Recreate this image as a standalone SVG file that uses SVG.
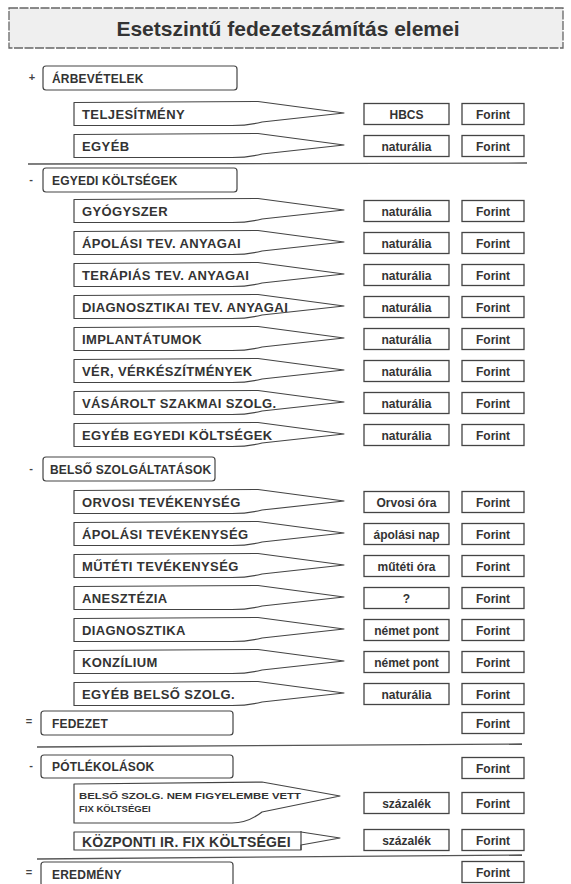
<svg xmlns="http://www.w3.org/2000/svg" xmlns:xlink="http://www.w3.org/1999/xlink" width="571" height="884" viewBox="0 0 571 884">
<style>
.bg{fill:#fff}
.title-box{fill:#efefef;stroke:#666;stroke-width:1.3;stroke-dasharray:9 1.5}
.title{font-family:"Liberation Sans",Arial,sans-serif;font-weight:bold;font-size:21px;fill:#333;text-anchor:middle}
.hdr{fill:#fff;stroke:#444;stroke-width:1.2}
.box{fill:#fff;stroke:#444;stroke-width:1.3}
.co{fill:#fff;stroke:#444;stroke-width:1.2;stroke-linejoin:round}
.h{font-family:"Liberation Sans",Arial,sans-serif;font-weight:bold;font-size:12px;letter-spacing:0.2px;fill:#333}
.lbl{font-family:"Liberation Sans",Arial,sans-serif;font-weight:bold;font-size:13px;letter-spacing:0.4px;fill:#333}
.sm{font-family:"Liberation Sans",Arial,sans-serif;font-weight:bold;font-size:9.5px;fill:#333}
.val{font-family:"Liberation Sans",Arial,sans-serif;font-weight:bold;font-size:12px;fill:#333;text-anchor:middle}
.op{font-family:"Liberation Sans",Arial,sans-serif;font-weight:bold;font-size:11px;fill:#444;text-anchor:middle}
.sep{stroke:#555;stroke-width:1.3;fill:none}
</style>
<defs>
<path id="callout" d="M74,-11.5 L258,-12.5 L344,-1 L262,8 Q248,11.5 232,11.5 L74,11.5 Z"/>
<rect id="vbox" x="364" y="-10.5" width="85" height="21"/>
<rect id="fbox" x="462" y="-10.5" width="62" height="21"/>
</defs>
<rect class="bg" x="0" y="0" width="571" height="884"/>

<g id="title">
<rect class="title-box" x="9" y="8" width="554" height="40"/>
<text class="title" x="288" y="36">Esetszintű fedezetszámítás elemei</text>
</g>

<g id="connectors">
<path class="sep" d="M28,164 L527,163"/>
<path class="sep" d="M37,747 L522,744"/>
<path class="sep" d="M37,859 L522,855"/>
</g>

<g id="arbevetelek">
<text class="op" x="32" y="81">+</text>
<rect class="hdr" x="43" y="66" width="194" height="24" rx="3"/>
<text class="h" x="52" y="83">ÁRBEVÉTELEK</text>
</g>
<g id="teljesitmeny" transform="translate(0,114)">
<use xlink:href="#callout" class="co"/>
<text class="lbl" x="82" y="4.5">TELJESÍTMÉNY</text>
<use xlink:href="#vbox" class="box"/><text class="val" x="406.5" y="4.5">HBCS</text>
<use xlink:href="#fbox" class="box"/><text class="val" x="493" y="4.5">Forint</text>
</g>
<g id="egyeb" transform="translate(0,146)">
<use xlink:href="#callout" class="co"/>
<text class="lbl" x="82" y="4.5">EGYÉB</text>
<use xlink:href="#vbox" class="box"/><text class="val" x="406.5" y="4.5">naturália</text>
<use xlink:href="#fbox" class="box"/><text class="val" x="493" y="4.5">Forint</text>
</g>

<g id="egyedi-koltsegek">
<text class="op" x="31" y="183">-</text>
<rect class="hdr" x="43" y="168" width="194" height="24" rx="3"/>
<text class="h" x="52" y="185">EGYEDI KÖLTSÉGEK</text>
</g>
<g id="gyogyszer" transform="translate(0,211)">
<use xlink:href="#callout" class="co"/>
<text class="lbl" x="82" y="4.5">GYÓGYSZER</text>
<use xlink:href="#vbox" class="box"/><text class="val" x="406.5" y="4.5">naturália</text>
<use xlink:href="#fbox" class="box"/><text class="val" x="493" y="4.5">Forint</text>
</g>
<g id="apolasi-anyagai" transform="translate(0,243)">
<use xlink:href="#callout" class="co"/>
<text class="lbl" x="82" y="4.5">ÁPOLÁSI TEV. ANYAGAI</text>
<use xlink:href="#vbox" class="box"/><text class="val" x="406.5" y="4.5">naturália</text>
<use xlink:href="#fbox" class="box"/><text class="val" x="493" y="4.5">Forint</text>
</g>
<g id="terapias-anyagai" transform="translate(0,275)">
<use xlink:href="#callout" class="co"/>
<text class="lbl" x="82" y="4.5">TERÁPIÁS TEV. ANYAGAI</text>
<use xlink:href="#vbox" class="box"/><text class="val" x="406.5" y="4.5">naturália</text>
<use xlink:href="#fbox" class="box"/><text class="val" x="493" y="4.5">Forint</text>
</g>
<g id="diagnosztikai-anyagai" transform="translate(0,307)">
<use xlink:href="#callout" class="co"/>
<text class="lbl" x="82" y="4.5">DIAGNOSZTIKAI TEV. ANYAGAI</text>
<use xlink:href="#vbox" class="box"/><text class="val" x="406.5" y="4.5">naturália</text>
<use xlink:href="#fbox" class="box"/><text class="val" x="493" y="4.5">Forint</text>
</g>
<g id="implantatumok" transform="translate(0,339)">
<use xlink:href="#callout" class="co"/>
<text class="lbl" x="82" y="4.5">IMPLANTÁTUMOK</text>
<use xlink:href="#vbox" class="box"/><text class="val" x="406.5" y="4.5">naturália</text>
<use xlink:href="#fbox" class="box"/><text class="val" x="493" y="4.5">Forint</text>
</g>
<g id="ver" transform="translate(0,371)">
<use xlink:href="#callout" class="co"/>
<text class="lbl" x="82" y="4.5">VÉR, VÉRKÉSZÍTMÉNYEK</text>
<use xlink:href="#vbox" class="box"/><text class="val" x="406.5" y="4.5">naturália</text>
<use xlink:href="#fbox" class="box"/><text class="val" x="493" y="4.5">Forint</text>
</g>
<g id="vasarolt" transform="translate(0,403)">
<use xlink:href="#callout" class="co"/>
<text class="lbl" x="82" y="4.5">VÁSÁROLT SZAKMAI SZOLG.</text>
<use xlink:href="#vbox" class="box"/><text class="val" x="406.5" y="4.5">naturália</text>
<use xlink:href="#fbox" class="box"/><text class="val" x="493" y="4.5">Forint</text>
</g>
<g id="egyeb-egyedi" transform="translate(0,435)">
<use xlink:href="#callout" class="co"/>
<text class="lbl" x="82" y="4.5">EGYÉB EGYEDI KÖLTSÉGEK</text>
<use xlink:href="#vbox" class="box"/><text class="val" x="406.5" y="4.5">naturália</text>
<use xlink:href="#fbox" class="box"/><text class="val" x="493" y="4.5">Forint</text>
</g>

<g id="belso-szolgaltatasok">
<text class="op" x="31" y="472">-</text>
<rect class="hdr" x="43" y="457" width="172" height="24" rx="3"/>
<text class="h" x="50" y="474">BELSŐ SZOLGÁLTATÁSOK</text>
</g>
<g id="orvosi" transform="translate(0,502)">
<use xlink:href="#callout" class="co"/>
<text class="lbl" x="82" y="4.5">ORVOSI TEVÉKENYSÉG</text>
<use xlink:href="#vbox" class="box"/><text class="val" x="406.5" y="4.5">Orvosi óra</text>
<use xlink:href="#fbox" class="box"/><text class="val" x="493" y="4.5">Forint</text>
</g>
<g id="apolasi" transform="translate(0,534)">
<use xlink:href="#callout" class="co"/>
<text class="lbl" x="82" y="4.5">ÁPOLÁSI TEVÉKENYSÉG</text>
<use xlink:href="#vbox" class="box"/><text class="val" x="406.5" y="4.5">ápolási nap</text>
<use xlink:href="#fbox" class="box"/><text class="val" x="493" y="4.5">Forint</text>
</g>
<g id="muteti" transform="translate(0,566)">
<use xlink:href="#callout" class="co"/>
<text class="lbl" x="82" y="4.5">MŰTÉTI TEVÉKENYSÉG</text>
<use xlink:href="#vbox" class="box"/><text class="val" x="406.5" y="4.5">műtéti óra</text>
<use xlink:href="#fbox" class="box"/><text class="val" x="493" y="4.5">Forint</text>
</g>
<g id="aneszt" transform="translate(0,598)">
<use xlink:href="#callout" class="co"/>
<text class="lbl" x="82" y="4.5">ANESZTÉZIA</text>
<use xlink:href="#vbox" class="box"/><text class="val" x="406.5" y="4.5">?</text>
<use xlink:href="#fbox" class="box"/><text class="val" x="493" y="4.5">Forint</text>
</g>
<g id="diagnosztika" transform="translate(0,630)">
<use xlink:href="#callout" class="co"/>
<text class="lbl" x="82" y="4.5">DIAGNOSZTIKA</text>
<use xlink:href="#vbox" class="box"/><text class="val" x="406.5" y="4.5">német pont</text>
<use xlink:href="#fbox" class="box"/><text class="val" x="493" y="4.5">Forint</text>
</g>
<g id="konzilium" transform="translate(0,662)">
<use xlink:href="#callout" class="co"/>
<text class="lbl" x="82" y="4.5">KONZÍLIUM</text>
<use xlink:href="#vbox" class="box"/><text class="val" x="406.5" y="4.5">német pont</text>
<use xlink:href="#fbox" class="box"/><text class="val" x="493" y="4.5">Forint</text>
</g>
<g id="egyeb-belso" transform="translate(0,694)">
<use xlink:href="#callout" class="co"/>
<text class="lbl" x="82" y="4.5">EGYÉB BELSŐ SZOLG.</text>
<use xlink:href="#vbox" class="box"/><text class="val" x="406.5" y="4.5">naturália</text>
<use xlink:href="#fbox" class="box"/><text class="val" x="493" y="4.5">Forint</text>
</g>

<g id="fedezet">
<text class="op" x="29" y="725">=</text>
<rect class="hdr" x="41" y="711" width="192" height="24" rx="3"/>
<text class="h" x="52" y="728">FEDEZET</text>
<g transform="translate(0,723)"><use xlink:href="#fbox" class="box"/><text class="val" x="493" y="4.5">Forint</text></g>
</g>

<g id="potlekolasok">
<text class="op" x="31" y="769">-</text>
<rect class="hdr" x="41" y="755" width="192" height="23" rx="3"/>
<text class="h" x="52" y="771">PÓTLÉKOLÁSOK</text>
<g transform="translate(0,768)"><use xlink:href="#fbox" class="box"/><text class="val" x="493" y="4.5">Forint</text></g>
</g>
<g id="belso-nem-figyelembe">
<path class="co" d="M74,784 L262,782 L340,796 L262,812 Q248,823 232,823 L74,823 Z"/>
<text class="sm" x="79" y="799" textLength="222" lengthAdjust="spacingAndGlyphs">BELSŐ SZOLG. NEM FIGYELEMBE VETT</text>
<text class="sm" x="79" y="812">FIX KÖLTSÉGEI</text>
<g transform="translate(0,803)"><use xlink:href="#vbox" class="box"/><text class="val" x="406.5" y="4.5">százalék</text>
<use xlink:href="#fbox" class="box"/><text class="val" x="493" y="4.5">Forint</text></g>
</g>
<g id="kozponti">
<path class="co" d="M74,832 L301,832 L340,838 L301,845 L301,850 L74,850 Z"/>
<line x1="301" y1="831" x2="301" y2="850" stroke="#444" stroke-width="1.2"/>
<text class="lbl" x="82" y="847" style="font-size:14px;letter-spacing:0.2px">KÖZPONTI IR. FIX KÖLTSÉGEI</text>
<g transform="translate(0,840)"><use xlink:href="#vbox" class="box"/><text class="val" x="406.5" y="4.5">százalék</text>
<use xlink:href="#fbox" class="box"/><text class="val" x="493" y="4.5">Forint</text></g>
</g>

<g id="eredmeny">
<text class="op" x="29" y="876">=</text>
<rect class="hdr" x="41" y="862" width="192" height="24" rx="3"/>
<text class="h" x="52" y="879">EREDMÉNY</text>
<g transform="translate(0,872)"><use xlink:href="#fbox" class="box"/><text class="val" x="493" y="4.5">Forint</text></g>
</g>
</svg>
